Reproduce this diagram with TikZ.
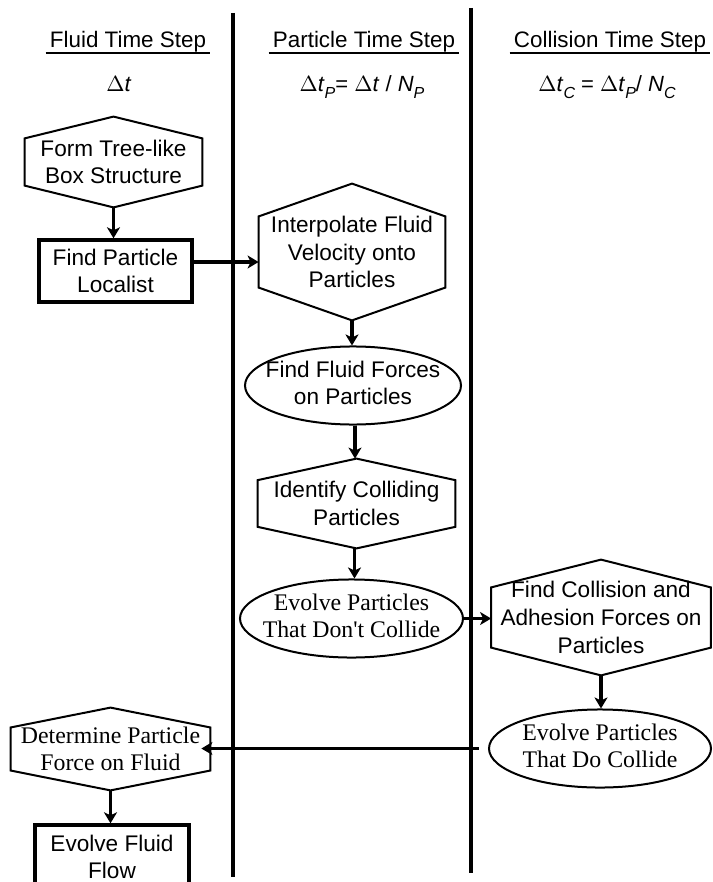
\documentclass[tikz,border=0pt]{standalone}
\usepackage{fontspec}
\setmainfont{Liberation Sans}
\newfontfamily\timesface{Liberation Serif}
\usepackage{tikz}
\usetikzlibrary{shapes.geometric,arrows.meta,calc}

% text of an oval, kept from widening the ellipse
\newcommand{\ovaltext}[1]{\makebox[0pt]{\begin{tabular}{@{}c@{}}#1\end{tabular}}}
\newcommand{\lowsub}[1]{\raisebox{-0.55ex}{\footnotesize\itshape #1}}

\begin{document}
\begin{tikzpicture}[x=0.5pt,y=-0.5pt,
    sanstext/.style={font=\fontsize{11.3}{13.8}\selectfont, align=center},
    serftext/.style={font=\timesface\fontsize{11.9}{13.8}\selectfont, align=center},
    hexbox/.style={inner sep=0pt},
    rectbox/.style={draw, line width=1.7pt, inner sep=0pt, sanstext},
    ovalbox/.style={ellipse, draw, line width=1pt, inner sep=0pt},
    flow/.style={-{Stealth[length=5.5pt,width=6.5pt,inset=1.5pt]}, line width=1.8pt},
    lane/.style={line width=2pt},
    header/.style={font=\fontsize{11.2}{13}\selectfont, inner xsep=2pt, inner ysep=0pt, anchor=base},
    formula/.style={font=\fontsize{11}{13}\selectfont, anchor=base}
]
\useasboundingbox (0,0) rectangle (712,882);
\clip (0,0) rectangle (712,882);

% swim lanes
\draw[lane] (233,13) -- (233,877);
\draw[lane] (471,8) -- (471,873);

% column heads
\node[header] (hfluid) at (128,48) {Fluid Time Step};
\node[header] (hpart) at (364,48) {Particle Time Step};
\node[header] (hcoll) at (610,48) {Collision Time Step};
\foreach \h in {hfluid,hpart,hcoll}
    \draw[line width=1.3pt] (\h.south west) -- (\h.south east);

\node[formula] (dtfluid) at (119,92) {$\Delta$\textit{t}};
\node[formula] (dtpart) at (362,92) {$\Delta$\textit{t}\lowsub{P}= $\Delta$\textit{t} / \textit{N}\lowsub{P}};
\node[formula] (dtcoll) at (607,92) {$\Delta$\textit{t}\lowsub{C} = $\Delta$\textit{t}\lowsub{P}/ \textit{N}\lowsub{C}};

% fluid column
\node[hexbox, sanstext, minimum width=88.5pt, minimum height=45pt] (tree) at (113.5,162) {Form Tree-like\\Box Structure};
\node[rectbox, minimum width=76.5pt, minimum height=31pt] (find) at (115.5,271) {Find Particle\\Localist};

% particle column
\node[hexbox, sanstext, minimum width=93pt, minimum height=68pt] (interp) at (352,252) {Interpolate Fluid\\Velocity onto\\Particles};
\node[ovalbox, sanstext, minimum width=108pt, minimum height=37.5pt] (fforce) at (353,385.5) {\ovaltext{Find Fluid Forces\\on Particles}};
\node[hexbox, sanstext, minimum width=98.5pt, minimum height=44.5pt] (ident) at (356.5,503.5) {Identify Colliding\\Particles};
\node[ovalbox, serftext, minimum width=111.5pt, minimum height=38.5pt] (nocoll) at (351.5,618.5) {\ovaltext{Evolve Particles\\That Don't Collide}};

% collision column
\node[hexbox, sanstext, minimum width=109.5pt, minimum height=57.5pt] (collforce) at (601,617.5) {Find Collision and\\Adhesion Forces on\\Particles};
\node[ovalbox, serftext, minimum width=111pt, minimum height=38.5pt] (docoll) at (600,748.5) {\ovaltext{Evolve Particles\\That Do Collide}};

% back to the fluid
\node[hexbox, serftext, minimum width=99.5pt, minimum height=41pt] (determ) at (110.5,749) {Determine Particle\\Force on Fluid};
\node[rectbox, minimum width=77pt, minimum height=32pt] (evflow) at (112,857) {Evolve Fluid\\Flow};

% hexagon outlines
\foreach \n in {tree,interp,ident,collforce,determ}
    \draw[line width=1pt] (\n.north) -- ($(\n.north east)!0.24!(\n.south east)$)
        -- ($(\n.north east)!0.76!(\n.south east)$) -- (\n.south)
        -- ($(\n.north west)!0.76!(\n.south west)$) -- ($(\n.north west)!0.24!(\n.south west)$) -- cycle;

% connectors
\draw[flow] (tree.south) -- (tree.south |- find.north);
\draw[flow] ([yshift=4.5pt]find.east) -- ([yshift=4.5pt]find.east -| interp.west);
\draw[flow] (interp.south) -- (interp.south |- fforce.north);
\draw[flow] ([xshift=1pt]fforce.south) -- ([xshift=1pt]fforce.south |- ident.north);
\draw[flow] ([xshift=-1pt]ident.south) -- ([xshift=-1pt]ident.south |- nocoll.north);
\draw[flow] (nocoll.east) -- (nocoll.east -| collforce.west);
\draw[flow] (collforce.south) -- (collforce.south |- docoll.north);
\draw[flow] ([xshift=-4.5pt]docoll.west) -- ([xshift=-4.5pt]docoll.west -| determ.east);
\draw[flow] (determ.south) -- (determ.south |- evflow.north);
\end{tikzpicture}
\end{document}
